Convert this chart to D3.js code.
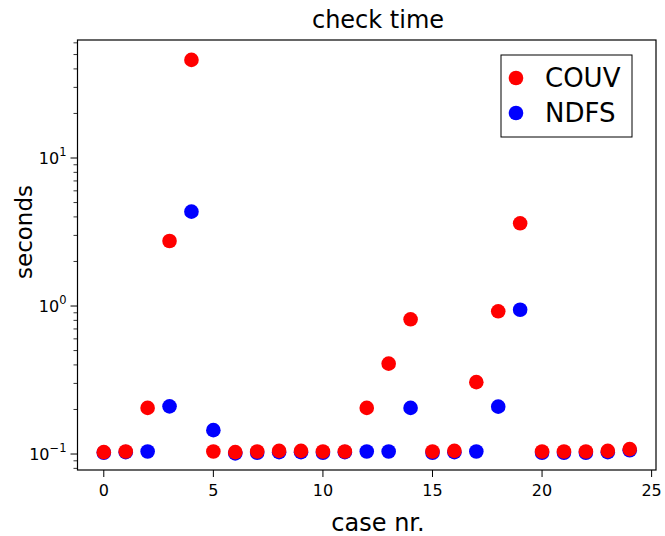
<!DOCTYPE html>
<html>
<head>
<meta charset="utf-8">
<script src="https://cdn.jsdelivr.net/npm/d3@7"></script>
<style>
  body { margin: 0; background: #fff; }
  text { font-family: "DejaVu Sans", sans-serif; }
</style>
</head>
<body>
<div id="chart"></div>
<script>
var cases = d3.range(25);
var couv = [0.103, 0.104, 0.205, 2.75, 46.0, 0.104, 0.103, 0.104, 0.105, 0.105, 0.104, 0.104, 0.205,
            0.408, 0.813, 0.104, 0.105, 0.306, 0.921, 3.62, 0.104, 0.104, 0.104, 0.105, 0.108];
var ndfs = [0.102, 0.103, 0.104, 0.21, 4.34, 0.145, 0.101, 0.102, 0.103, 0.103, 0.102, 0.103, 0.104,
            0.104, 0.205, 0.102, 0.103, 0.104, 0.209, 0.944, 0.102, 0.102, 0.102, 0.103, 0.106];
var xTicks = [0, 5, 10, 15, 20, 25];
var yTicks = [0.1, 1, 10];
var seriesNames = ["COUV", "NDFS"];
var seriesColors = ["red", "blue"];

var W = 665, H = 536;
var plotL = 77.5, plotR = 656, plotT = 40, plotB = 470;

var svg = d3.select("#chart").append("svg").attr("width", W).attr("height", H);

var x = d3.scaleLinear().domain([-1.2, 25.2]).range([plotL, plotR]);
var y = d3.scaleLog().domain([0.078, 62.7]).range([plotB, plotT]);

// minor ticks for log axis
var minor = [];
[0.01, 0.1, 1, 10].forEach(function(d) {
  for (var k = 2; k <= 9; k++) {
    var v = d * k;
    if (v >= y.domain()[0] && v <= y.domain()[1]) minor.push(v);
  }
});

var supMap = {"-1": "\u22121", "0": "0", "1": "1"};

var yAxis = svg.append("g").attr("transform", "translate(" + plotL + ",0)");
yAxis.selectAll(".minor").data(minor).enter().append("line")
  .attr("x1", -4).attr("x2", 0)
  .attr("y1", function(d) { return y(d); }).attr("y2", function(d) { return y(d); })
  .attr("stroke", "#000").attr("stroke-width", 0.8);
yAxis.selectAll(".major").data(yTicks).enter().append("line")
  .attr("x1", -7).attr("x2", 0)
  .attr("y1", function(d) { return y(d); }).attr("y2", function(d) { return y(d); })
  .attr("stroke", "#000").attr("stroke-width", 1);
var yl = yAxis.selectAll(".lab").data(yTicks).enter().append("text")
  .attr("x", -11).attr("y", function(d) { return y(d) + 6; })
  .attr("text-anchor", "end").attr("font-size", 16);
yl.append("tspan").text("10");
yl.append("tspan").attr("dy", -8).attr("font-size", 11.5)
  .text(function(d) { return supMap[String(Math.round(Math.log10(d)))]; });

var xAxis = svg.append("g").attr("transform", "translate(0," + plotB + ")");
xAxis.selectAll("line").data(xTicks).enter().append("line")
  .attr("x1", function(d) { return x(d); }).attr("x2", function(d) { return x(d); })
  .attr("y1", 0).attr("y2", 7).attr("stroke", "#000");
xAxis.selectAll("text").data(xTicks).enter().append("text")
  .attr("x", function(d) { return x(d); }).attr("y", 26)
  .attr("text-anchor", "middle").attr("font-size", 16)
  .text(function(d) { return d; });

// points
var series = [couv, ndfs];
[1, 0].forEach(function(si) {
  svg.append("g").selectAll("circle").data(series[si]).enter().append("circle")
    .attr("cx", function(d, i) { return x(cases[i]); })
    .attr("cy", function(d) { return y(d); })
    .attr("r", 7.3)
    .attr("fill", seriesColors[si]);
});

// frame
svg.append("rect").attr("x", plotL).attr("y", plotT)
  .attr("width", plotR - plotL).attr("height", plotB - plotT)
  .attr("fill", "none").attr("stroke", "#000").attr("stroke-width", 1.2);

svg.append("text").attr("x", 378).attr("y", 28).attr("text-anchor", "middle")
  .attr("font-size", 24).text("check time");
svg.append("text").attr("x", 378).attr("y", 531).attr("text-anchor", "middle")
  .attr("font-size", 24).text("case nr.");
svg.append("text").attr("transform", "translate(32,232) rotate(-90)")
  .attr("text-anchor", "middle").attr("font-size", 23).text("seconds");

// legend
var lg = svg.append("g").attr("transform", "translate(501,55)");
lg.append("rect").attr("width", 131).attr("height", 82)
  .attr("fill", "#fff").attr("stroke", "#000").attr("stroke-width", 1);
seriesNames.forEach(function(n, i) {
  lg.append("circle").attr("cx", 15).attr("cy", 23 + i * 35).attr("r", 7.3).attr("fill", seriesColors[i]);
  lg.append("text").attr("x", 44).attr("y", 32 + i * 35).attr("font-size", 26).text(n);
});
</script>
</body>
</html>
